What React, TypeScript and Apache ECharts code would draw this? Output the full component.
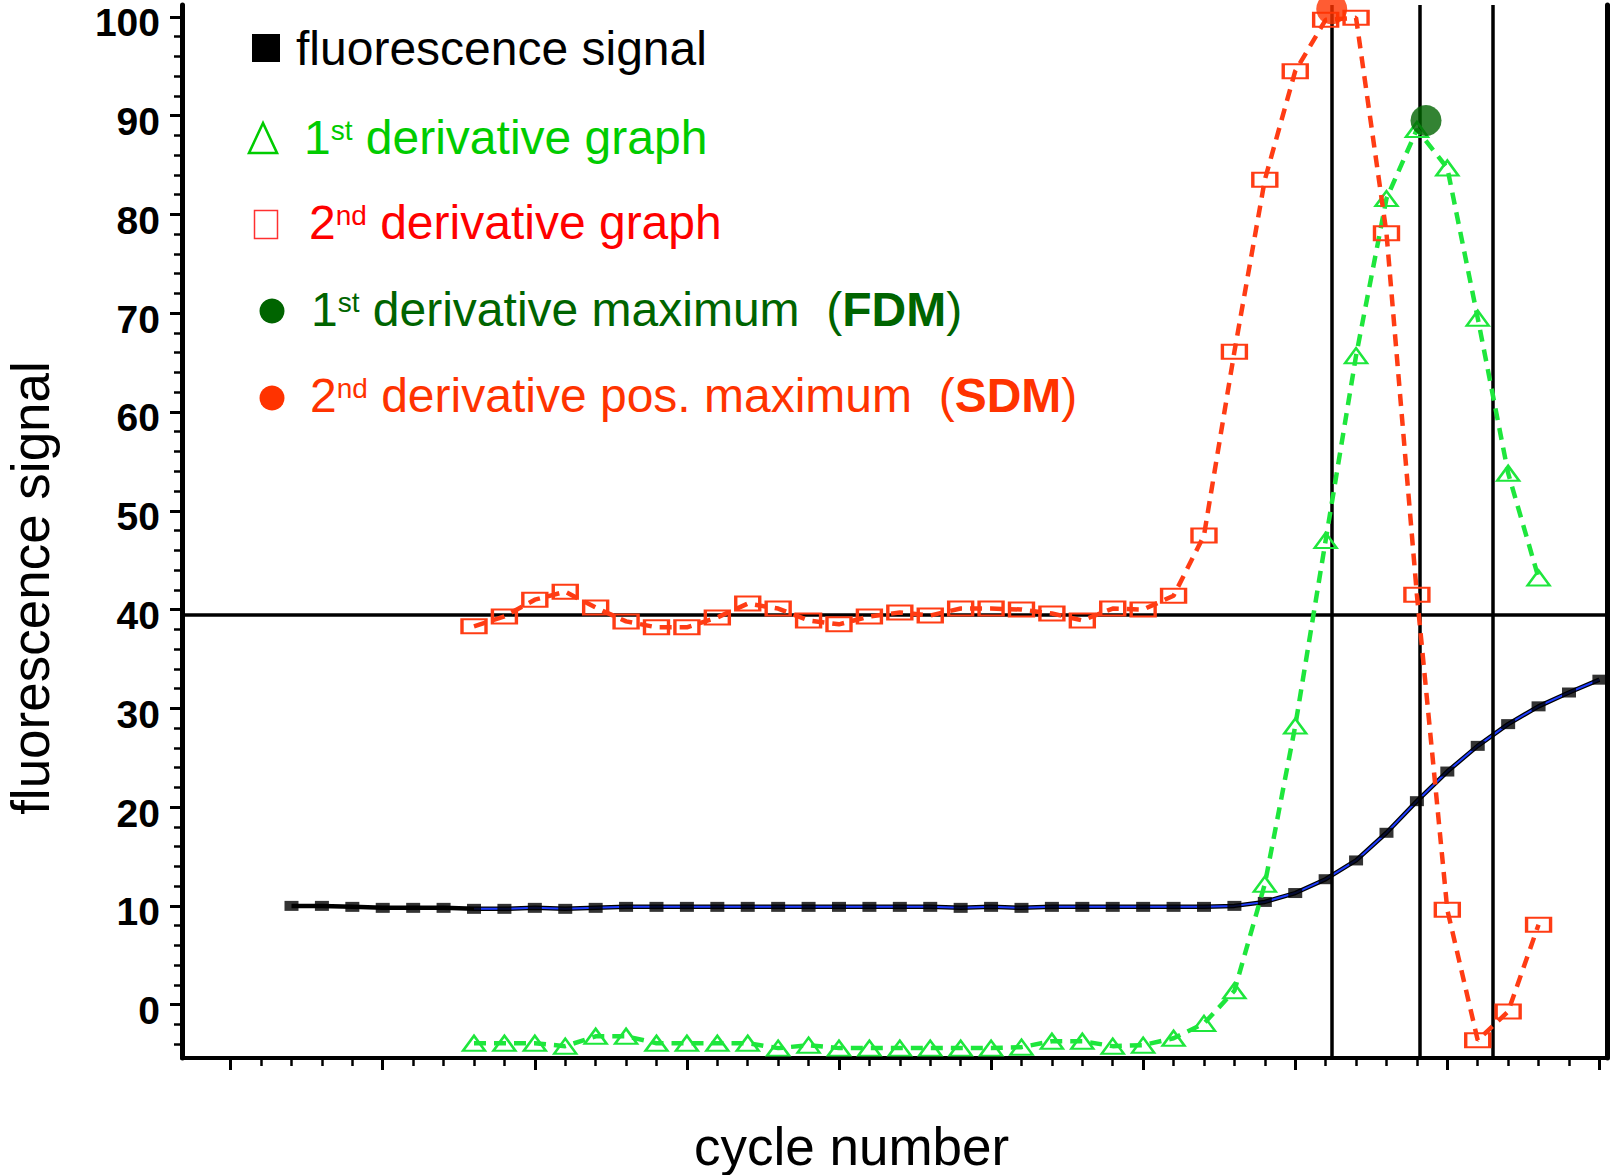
import { useEffect, useRef } from "react";
import * as echarts from "echarts";

const FONT = '"Liberation Sans", Arial, Helvetica, sans-serif';

// Raw fluorescence signal, one reading per PCR cycle
const fluorCycles = [
  2, 3, 4, 5, 6, 7, 8, 9, 10, 11, 12, 13, 14, 15, 16, 17, 18, 19, 20, 21, 22, 23,
  24, 25, 26, 27, 28, 29, 30, 31, 32, 33, 34, 35, 36, 37, 38, 39, 40, 41, 42, 43, 44, 45,
];
const fluorValues = [
  10.0, 10.0, 9.9, 9.8, 9.8, 9.8, 9.7, 9.7, 9.8, 9.7, 9.8, 9.9, 9.9, 9.9, 9.9, 9.9, 9.9, 9.9,
  9.9, 9.9, 9.9, 9.9, 9.8, 9.9, 9.8, 9.9, 9.9, 9.9, 9.9, 9.9, 9.9, 10.0, 10.4, 11.3, 12.7, 14.6,
  17.4, 20.6, 23.6, 26.2, 28.4, 30.2, 31.6, 32.9,
];
// Fitted curve drawn over the readings from this cycle on
const fitStartCycle = 8;

// Derivative curves, evaluated on the same cycles
const derivCycles = [
  8, 9, 10, 11, 12, 13, 14, 15, 16, 17, 18, 19, 20, 21, 22, 23, 24, 25, 26, 27, 28, 29,
  30, 31, 32, 33, 34, 35, 36, 37, 38, 39, 40, 41, 42, 43,
];
const firstDerivative = [
  -3.9, -3.9, -3.9, -4.2, -3.2, -3.2, -3.9, -3.9, -3.9, -3.9, -4.4, -4.1, -4.4, -4.4, -4.4,
  -4.4, -4.4, -4.4, -4.3, -3.7, -3.7, -4.2, -4.1, -3.4, -1.9, 1.4, 12.2, 28.2, 47.0, 65.7,
  81.6, 88.6, 84.7, 69.5, 53.8, 43.2,
];
const secondDerivative = [
  38.3, 39.3, 41.0, 41.8, 40.2, 38.8, 38.2, 38.2, 39.2, 40.6, 40.1, 38.9, 38.5, 39.3, 39.7,
  39.4, 40.1, 40.1, 40.0, 39.6, 38.9, 40.1, 40.0, 41.4, 47.5, 66.1, 83.5, 94.5, 99.7, 99.9,
  78.1, 41.5, 9.6, -3.6, -0.7, 8.1,
];

// Maxima of the derivative curves: [cycle, signal]
const fdmPoint = [39.3, 89.5];
const sdmPoint = [36.2, 100.8];

// Reference lines
const cycleMarkers = [36.2, 39.1, 41.5];
const thresholdLevel = 39.5;

// Axis ticks
const yTickLabels = [0, 10, 20, 30, 40, 50, 60, 70, 80, 90, 100];
const xMajorTicks = [0, 5, 10, 15, 20, 25, 30, 35, 40, 45];
const yMinorStep = 2;
const xMinorStep = 1;

const X_MIN = -1.6;
const X_MAX = 45.25;
const Y_MIN = -5.4;
const Y_MAX = 101.2;

const COLORS = {
  fluor: "#000000",
  fit: "#1f3dff",
  first: "#1ee63c",
  firstText: "#00cc00",
  second: "#ff3c14",
  secondText: "#ff0000",
  fdm: "#006400",
  sdm: "#ff3300",
};

// Legend rows: left edge, baseline, colour and text runs
// (run kinds: n = normal, s = superscript, b = bold)
type Run = [string, "n" | "s" | "b"];
const legendRows: { x: number; baseline: number; color: string; runs: Run[] }[] = [
  { x: 296, baseline: 65, color: COLORS.fluor, runs: [["fluorescence signal", "n"]] },
  {
    x: 304,
    baseline: 154,
    color: COLORS.firstText,
    runs: [["1", "n"], ["st", "s"], [" derivative graph", "n"]],
  },
  {
    x: 309,
    baseline: 239,
    color: COLORS.secondText,
    runs: [["2", "n"], ["nd", "s"], [" derivative graph", "n"]],
  },
  {
    x: 311,
    baseline: 326,
    color: COLORS.fdm,
    runs: [["1", "n"], ["st", "s"], [" derivative maximum  (", "n"], ["FDM", "b"], [")", "n"]],
  },
  {
    x: 310,
    baseline: 412,
    color: COLORS.sdm,
    runs: [
      ["2", "n"],
      ["nd", "s"],
      [" derivative pos. maximum  (", "n"],
      ["SDM", "b"],
      [")", "n"],
    ],
  },
];

const LEGEND_SIZE = 48;
const SUP_SIZE = 28;
const SUP_RISE = 14;
// distance from a text's vertical centre to its baseline, in em
const CENTER_TO_BASELINE = 0.3465;

function pairs(xs: number[], ys: number[]) {
  return xs.map((x, i) => [x, ys[i]]);
}

function minorTicks(min: number, max: number, step: number, majors: number[]) {
  const out: number[] = [];
  const start = Math.ceil(min / step) * step;
  for (let v = start; v <= max + 1e-9; v += step) {
    const r = Math.round(v * 1000) / 1000;
    if (!majors.includes(r)) out.push(r);
  }
  return out;
}

let measureCtx: CanvasRenderingContext2D | null = null;
function textWidth(text: string, size: number, weight: string) {
  if (!measureCtx) measureCtx = document.createElement("canvas").getContext("2d");
  if (!measureCtx) return text.length * size * 0.5;
  measureCtx.font = `${weight} ${size}px ${FONT}`;
  return measureCtx.measureText(text).width;
}

function legendTexts() {
  const out: any[] = [];
  legendRows.forEach((row) => {
    let cursor = row.x;
    row.runs.forEach(([text, kind]) => {
      const size = kind === "s" ? SUP_SIZE : LEGEND_SIZE;
      const weight = kind === "b" ? "bold" : "normal";
      const baseline = kind === "s" ? row.baseline - SUP_RISE : row.baseline;
      out.push({
        type: "text",
        x: cursor,
        y: baseline - CENTER_TO_BASELINE * size,
        z: 20,
        style: {
          text,
          align: "left",
          verticalAlign: "middle",
          fill: row.color,
          fontSize: size,
          fontWeight: weight,
          fontFamily: FONT,
        },
      });
      cursor += textWidth(text, size, weight);
    });
  });
  return out;
}

export default function App() {
  const ref = useRef<HTMLDivElement>(null);

  useEffect(() => {
    if (!ref.current) return;
    const chart = echarts.init(ref.current, undefined, { renderer: "svg" });

    const fluorData = pairs(fluorCycles, fluorValues);
    const fitData = fluorData.filter((p) => p[0] >= fitStartCycle);
    const firstData = pairs(derivCycles, firstDerivative);
    const secondData = pairs(derivCycles, secondDerivative);

    const yMinor = minorTicks(Y_MIN, Y_MAX, yMinorStep, yTickLabels);
    const xMinor = minorTicks(0, X_MAX, xMinorStep, xMajorTicks);

    const hiddenAxisParts = {
      axisLabel: { show: false },
      splitLine: { show: false },
    };

    chart.setOption({
      animation: false,
      backgroundColor: "#ffffff",
      grid: { left: 182, right: 3, top: 5, bottom: 117, containLabel: false },
      xAxis: [
        {
          type: "value",
          min: X_MIN,
          max: X_MAX,
          position: "bottom",
          axisLine: { show: true, onZero: false, lineStyle: { color: "#000", width: 4 } },
          axisTick: {
            show: true,
            inside: false,
            length: 12,
            customValues: xMajorTicks,
            lineStyle: { color: "#000", width: 3 },
          },
          ...hiddenAxisParts,
        },
        {
          type: "value",
          min: X_MIN,
          max: X_MAX,
          position: "bottom",
          axisLine: { show: false, onZero: false },
          axisTick: {
            show: true,
            inside: false,
            length: 8,
            customValues: xMinor,
            lineStyle: { color: "#000", width: 2.5 },
          },
          ...hiddenAxisParts,
        },
      ],
      yAxis: [
        {
          type: "value",
          min: Y_MIN,
          max: Y_MAX,
          position: "left",
          axisLine: { show: true, onZero: false, lineStyle: { color: "#000", width: 5 } },
          axisTick: {
            show: true,
            inside: false,
            length: 12,
            customValues: yTickLabels,
            lineStyle: { color: "#000", width: 3 },
          },
          axisLabel: {
            show: true,
            customValues: yTickLabels,
            margin: 22,
            verticalAlign: "top",
            lineHeight: 12,
            color: "#000",
            fontSize: 39,
            fontWeight: "bold",
            fontFamily: FONT,
          },
          splitLine: { show: false },
        },
        {
          type: "value",
          min: Y_MIN,
          max: Y_MAX,
          position: "left",
          axisLine: { show: false, onZero: false },
          axisTick: {
            show: true,
            inside: false,
            length: 8,
            customValues: yMinor,
            lineStyle: { color: "#000", width: 2.5 },
          },
          ...hiddenAxisParts,
        },
        {
          type: "value",
          min: Y_MIN,
          max: Y_MAX,
          position: "right",
          axisLine: { show: true, onZero: false, lineStyle: { color: "#000", width: 5 } },
          axisTick: { show: false },
          ...hiddenAxisParts,
        },
      ],
      series: [
        {
          name: "reference lines",
          type: "line",
          data: [],
          z: 1,
          silent: true,
          markLine: {
            silent: true,
            symbol: ["none", "none"],
            label: { show: false },
            lineStyle: { color: "#000", width: 3.5, type: "solid" },
            data: [
              ...cycleMarkers.map((c) => ({ xAxis: c })),
              { yAxis: thresholdLevel },
            ],
          },
        },
        {
          name: "fluorescence signal",
          type: "line",
          data: fluorData,
          z: 2,
          showSymbol: false,
          lineStyle: { color: COLORS.fluor, width: 4.5 },
        },
        {
          name: "fit",
          type: "line",
          data: fitData,
          z: 3,
          showSymbol: false,
          lineStyle: { color: COLORS.fit, width: 2 },
        },
        {
          name: "fluorescence readings",
          type: "scatter",
          data: fluorData,
          z: 4,
          symbol: "rect",
          symbolSize: [14, 10],
          itemStyle: { color: COLORS.fluor },
        },
        {
          name: "1st derivative graph",
          type: "line",
          data: firstData,
          z: 5,
          symbol: "triangle",
          symbolSize: [22, 15],
          showAllSymbol: true,
          itemStyle: { color: "rgba(0,0,0,0)", borderColor: COLORS.first, borderWidth: 2.4 },
          lineStyle: { color: COLORS.first, width: 4.5, type: [12, 8] },
        },
        {
          name: "2nd derivative graph",
          type: "line",
          data: secondData,
          z: 6,
          symbol: "rect",
          symbolSize: [24, 14],
          showAllSymbol: true,
          itemStyle: { color: "rgba(0,0,0,0)", borderColor: COLORS.second, borderWidth: 2.6 },
          lineStyle: { color: COLORS.second, width: 4.5, type: [12, 8] },
        },
        {
          name: "FDM",
          type: "scatter",
          data: [fdmPoint],
          z: 10,
          symbol: "circle",
          symbolSize: 31,
          itemStyle: { color: COLORS.fdm },
        },
        {
          name: "SDM",
          type: "scatter",
          data: [sdmPoint],
          z: 10,
          symbol: "circle",
          symbolSize: 31,
          clip: false,
          itemStyle: { color: COLORS.sdm },
        },
      ],
      graphic: [
        {
          type: "text",
          x: 30,
          y: 588,
          rotation: Math.PI / 2,
          style: {
            text: "fluorescence signal",
            align: "center",
            verticalAlign: "middle",
            fill: "#000",
            fontSize: 53,
            fontFamily: FONT,
          },
        },
        {
          type: "text",
          x: 694,
          y: 1146.6,
          style: {
            text: "cycle number",
            align: "left",
            verticalAlign: "middle",
            fill: "#000",
            fontSize: 53,
            fontFamily: FONT,
          },
        },
        // legend symbols
        {
          type: "rect",
          z: 20,
          shape: { x: 252, y: 34, width: 28, height: 28 },
          style: { fill: "#000" },
        },
        {
          type: "polygon",
          z: 20,
          shape: {
            points: [
              [249, 153],
              [263, 123],
              [277, 153],
            ],
          },
          style: { fill: "none", stroke: COLORS.firstText, lineWidth: 2.6 },
        },
        {
          type: "rect",
          z: 20,
          shape: { x: 254.5, y: 210.5, width: 23, height: 28 },
          style: { fill: "none", stroke: "#ff3030", lineWidth: 1.5 },
        },
        {
          type: "circle",
          z: 20,
          shape: { cx: 272, cy: 311, r: 12.5 },
          style: { fill: COLORS.fdm },
        },
        {
          type: "circle",
          z: 20,
          shape: { cx: 272, cy: 398, r: 12.5 },
          style: { fill: COLORS.sdm },
        },
        ...legendTexts(),
      ],
    });

    return () => chart.dispose();
  }, []);

  return (
    <div
      ref={ref}
      style={{
        position: "fixed",
        left: 0,
        top: 0,
        width: 1610,
        height: 1175,
        background: "#ffffff",
      }}
    />
  );
}
